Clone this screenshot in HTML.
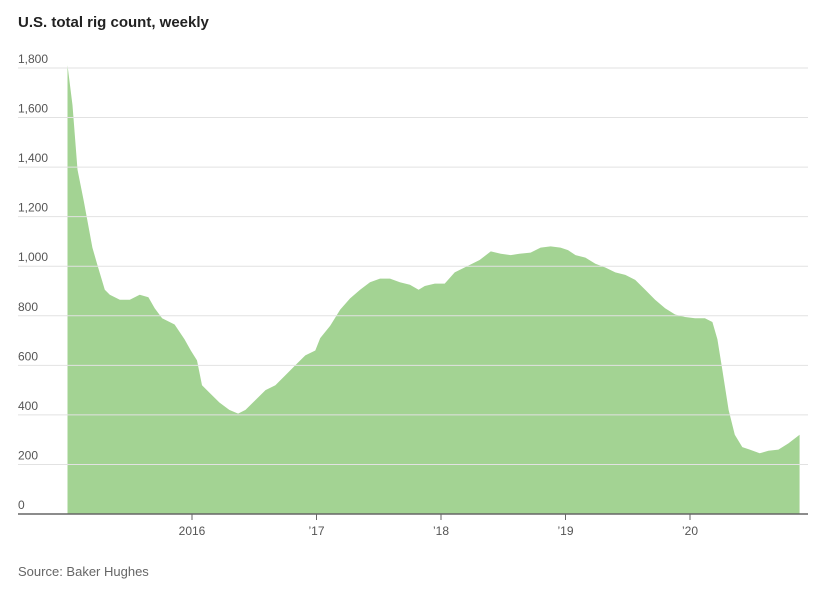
<!DOCTYPE html>
<html><head><meta charset="utf-8"><style>
body{margin:0;background:#fff;font-family:"Liberation Sans",sans-serif}
</style></head><body>
<svg width="838" height="593" xmlns="http://www.w3.org/2000/svg">
<text x="18" y="27" font-size="15" font-weight="bold" fill="#222">U.S. total rig count, weekly</text>
<g id="plot"></g>
<text x="18" y="576" font-size="13" fill="#666">Source: Baker Hughes</text>
</svg>
<script>
const dates=[2015.00,2015.04,2015.08,2015.13,2015.20,2015.24,2015.30,2015.34,2015.42,2015.50,2015.58,2015.65,2015.70,2015.76,2015.86,2015.94,2015.99,2016.04,2016.08,2016.14,2016.22,2016.30,2016.37,2016.43,2016.51,2016.59,2016.67,2016.75,2016.83,2016.91,2016.99,2017.03,2017.11,2017.19,2017.27,2017.35,2017.43,2017.51,2017.59,2017.67,2017.75,2017.82,2017.87,2017.95,2018.03,2018.11,2018.23,2018.31,2018.40,2018.48,2018.56,2018.63,2018.72,2018.80,2018.88,2018.96,2019.02,2019.08,2019.16,2019.24,2019.32,2019.40,2019.48,2019.56,2019.64,2019.72,2019.80,2019.88,2019.96,2020.04,2020.12,2020.18,2020.22,2020.26,2020.31,2020.36,2020.42,2020.48,2020.56,2020.63,2020.71,2020.79,2020.88];
const rigs=[1811,1650,1390,1265,1075,1005,905,885,865,865,885,875,830,790,765,705,660,620,520,490,450,420,405,420,460,500,520,560,600,640,660,710,760,825,870,905,935,950,950,935,925,905,920,930,930,975,1005,1025,1060,1050,1045,1050,1055,1075,1080,1075,1065,1045,1035,1010,995,975,965,945,905,865,830,805,795,790,790,775,705,580,420,320,270,260,245,255,260,285,320];
const yTicks=[0,200,400,600,800,1000,1200,1400,1600,1800];
const xTicks=[2016,2017,2018,2019,2020];
const xLabels=["2016","\u201917","\u201918","\u201919","\u201920"];
const NS="http://www.w3.org/2000/svg";
const g=document.getElementById('plot');
const xs=d=>67.5+(d-2015)*124.5;
const ys=v=>514-v/1800*446;
function mk(t,a){const e=document.createElementNS(NS,t);for(const k in a)e.setAttribute(k,a[k]);g.appendChild(e);return e;}
let p="M"+xs(dates[0])+","+ys(0);
dates.forEach((d,i)=>{p+=" L"+xs(d).toFixed(1)+","+ys(rigs[i]).toFixed(1);});
p+=" L"+xs(dates[dates.length-1])+","+ys(0)+"Z";
const area=mk('path',{d:p,fill:'#a3d393'});


yTicks.forEach(v=>{
  if(v>0){const l=mk('line',{x1:18,x2:808,y1:ys(v),y2:ys(v),stroke:'#e2e2e2','stroke-width':1});
  
  }
  const t=mk('text',{x:18,y:ys(v)-5,'font-size':12,fill:'#555'});
  t.textContent=v.toLocaleString('en-US');
  
  
});
const ax=mk('line',{x1:18,x2:808,y1:514,y2:514,stroke:'#666','stroke-width':1.5});


xTicks.forEach((d,i)=>{
  const tk=mk('line',{x1:xs(d),x2:xs(d),y1:514,y2:520,stroke:'#666'});
  
  
  const t=mk('text',{x:xs(d),y:535,'font-size':12,fill:'#555','text-anchor':'middle'});
  t.textContent=xLabels[i];
  
  
});
</script>
</body></html>
